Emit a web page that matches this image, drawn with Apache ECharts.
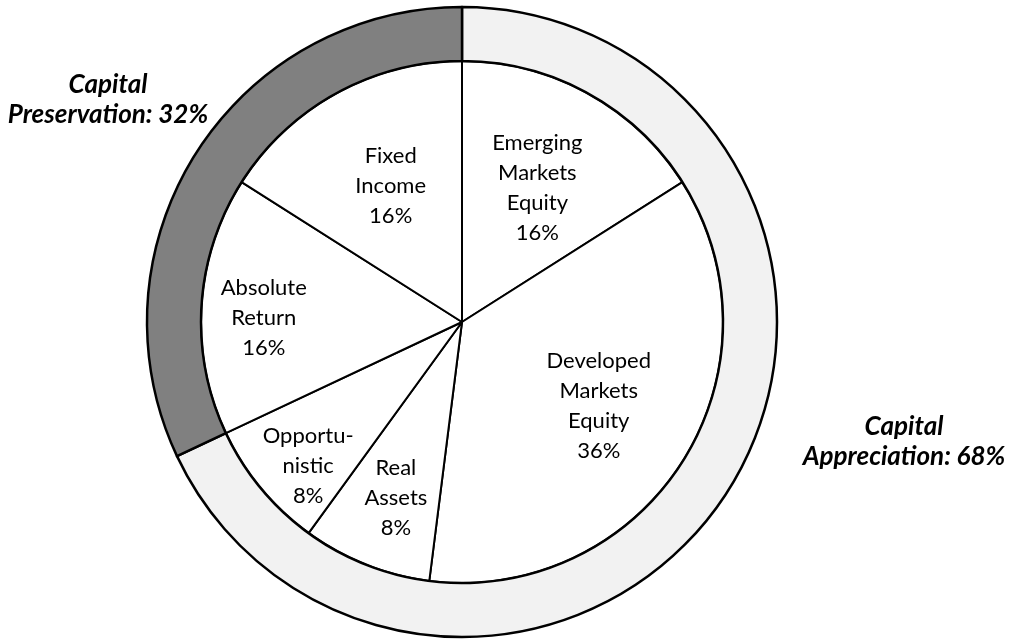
<!DOCTYPE html>
<html>
<head>
<meta charset="utf-8">
<script src="https://cdn.jsdelivr.net/npm/echarts@6/dist/echarts.min.js"></script>
<style>
  html, body { margin: 0; padding: 0; background: #ffffff; }
  #chart { width: 1013px; height: 640px; }
</style>
</head>
<body>
<div id="chart"></div>
<script>
// ---- data ----
const assetNames = ['Emerging\nMarkets\nEquity', 'Developed\nMarkets\nEquity', 'Real\nAssets', 'Opportu-\nnistic', 'Absolute\nReturn', 'Fixed\nIncome'];
const assetValues = [16, 36, 8, 8, 16, 16];
const groupNames = ['Capital\nAppreciation', 'Capital\nPreservation'];
const groupValues = [68, 32];

// ---- styling / label placement (offsets from default inside position) ----
const assetLabelOffsets = [[11, -17], [24, 12], [-17, 52], [-51, 59], [-65, 4], [-7, -19]];
const groupLabelPos = [[904, 442], [108, 100]];
const groupColors = ['#f2f2f2', '#808080'];

const chart = echarts.init(document.getElementById('chart'), null, { renderer: 'canvas' });

const cx = 462, cy = 322, rIn = 261, rOut = 315;

chart.setOption({
  animation: false,
  backgroundColor: '#ffffff',
  series: [
    {
      type: 'pie',
      center: [cx, cy],
      radius: [0, rIn],
      startAngle: 90,
      clockwise: true,
      z: 2,
      silent: true,
      itemStyle: { color: '#ffffff', borderColor: '#000000', borderWidth: 2 },
      label: {
        show: true,
        position: 'inside',
        color: '#000000',
        fontFamily: 'Lato',
        fontSize: 22,
        lineHeight: 30,
        align: 'center',
        formatter: p => p.name + '\n' + p.value + '%'
      },
      labelLayout: p => ({ dx: assetLabelOffsets[p.dataIndex][0], dy: assetLabelOffsets[p.dataIndex][1] }),
      labelLine: { show: false },
      data: assetNames.map((n, i) => ({ name: n, value: assetValues[i] }))
    },
    {
      type: 'pie',
      center: [cx, cy],
      radius: [rIn, rOut],
      startAngle: 90,
      clockwise: true,
      z: 3,
      silent: true,
      itemStyle: { borderColor: '#000000', borderWidth: 2.5 },
      label: {
        show: true,
        position: 'inside',
        color: '#000000',
        fontFamily: 'Lato',
        fontWeight: 'bold',
        fontStyle: 'italic',
        fontSize: 26,
        lineHeight: 30,
        align: 'center',
        overflow: 'none',
        formatter: p => p.name + ': ' + p.value + '%'
      },
      labelLine: { show: false },
      labelLayout: p => ({ x: groupLabelPos[p.dataIndex][0], y: groupLabelPos[p.dataIndex][1], align: 'center', verticalAlign: 'middle' }),
      data: groupNames.map((n, i) => ({ name: n, value: groupValues[i], itemStyle: { color: groupColors[i] } }))
    }
  ]
});
</script>
</body>
</html>
